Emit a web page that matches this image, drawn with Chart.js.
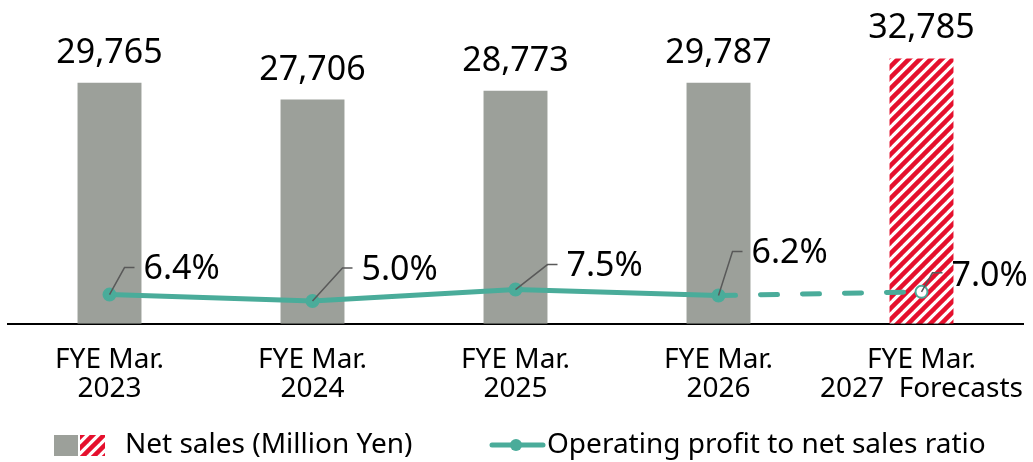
<!DOCTYPE html>
<html>
<head>
<meta charset="utf-8">
<script src="https://cdn.jsdelivr.net/npm/chart.js@4"></script>
<style>
  html, body { margin: 0; padding: 0; background: #ffffff; }
  #chart { display: block; }
</style>
</head>
<body>
<canvas id="chart" width="1033" height="462"></canvas>
<script>
// net sales bars + operating profit ratio line

// the data
const yearLabels = [
    ['FYE Mar.', '2023'],
    ['FYE Mar.', '2024'],
    ['FYE Mar.', '2025'],
    ['FYE Mar.', '2026'],
    ['FYE Mar.', '2027  Forecasts']
];
const netSales = [29765, 27706, 28773, 29787, 32785];
const profitRatio = [6.4, 5.0, 7.5, 6.2, 7.0];
const forecastIndex = 4;
const legendTexts = ['Net sales (Million Yen)', 'Operating profit to net sales ratio'];

// colors
const COLOR_GRAY = '#9ca09a';
const COLOR_RED = '#e5102d';
const COLOR_TEAL = '#4aac9a';
const COLOR_LEADER = '#595959';
const FONT = '"Noto Sans", sans-serif';

// red diagonal stripes for the forecast bar
function makeHatch() {
    const size = 11;
    const c = document.createElement('canvas');
    c.width = size;
    c.height = size;
    const g = c.getContext('2d');
    g.fillStyle = '#ffffff';
    g.fillRect(0, 0, size, size);
    g.strokeStyle = COLOR_RED;
    g.lineWidth = 4.5;
    for (let k = -1; k <= 1; k++) {
        g.beginPath();
        g.moveTo(k * size - 2, size + 2);
        g.lineTo(k * size + size + 2, -2);
        g.stroke();
    }
    return g.createPattern(c, 'repeat');
}
const hatch = makeHatch();

// leader offsets for the ratio labels: [elbow dx, elbow dy, label center dy]
const ratioLabelOffsets = [[15, -27, -25], [30, -33, -31], [32, -25, -23], [14, -44, -42], [11, -19, -16]];

// draws the numbers above bars and the ratio labels with leader lines
const labelPlugin = {
    id: 'labels',
    afterDatasetsDraw(chart) {
        const ctx = chart.ctx;
        ctx.save();
        ctx.fillStyle = '#000000';
        ctx.font = '34px ' + FONT;
        ctx.textAlign = 'center';
        ctx.textBaseline = 'alphabetic';

        const bars = chart.getDatasetMeta(1).data;
        for (let i = 0; i < bars.length; i++) {
            ctx.fillText(netSales[i].toLocaleString('en-US'), bars[i].x, bars[i].y - 20);
        }

        const points = chart.getDatasetMeta(0).data;
        ctx.textAlign = 'left';
        ctx.textBaseline = 'middle';
        ctx.strokeStyle = COLOR_LEADER;
        ctx.lineWidth = 1.5;
        for (let i = 0; i < points.length; i++) {
            const p = points[i];
            const off = ratioLabelOffsets[i];
            const ex = p.x + off[0];
            const ey = p.y + off[1];
            ctx.beginPath();
            ctx.moveTo(p.x, p.y);
            ctx.lineTo(ex, ey);
            ctx.lineTo(ex + 10, ey);
            ctx.stroke();
            ctx.fillText(profitRatio[i].toFixed(1) + '%', ex + 19, p.y + off[2]);
        }
        ctx.restore();
    }
};

// the legend at the bottom: gray + hatched swatch, then the line swatch
const legendPlugin = {
    id: 'bottomLegend',
    afterDraw(chart) {
        const ctx = chart.ctx;
        const y = 445;
        ctx.save();

        ctx.fillStyle = COLOR_GRAY;
        ctx.fillRect(54, y - 10, 24, 21);
        ctx.fillStyle = hatch;
        ctx.fillRect(80, y - 10, 25, 21);

        ctx.strokeStyle = COLOR_TEAL;
        ctx.lineWidth = 5;
        ctx.lineCap = 'round';
        ctx.beginPath();
        ctx.moveTo(492, y);
        ctx.lineTo(543, y);
        ctx.stroke();
        ctx.fillStyle = COLOR_TEAL;
        ctx.beginPath();
        ctx.arc(516, y, 6, 0, Math.PI * 2);
        ctx.fill();

        ctx.fillStyle = '#000000';
        ctx.font = '28px ' + FONT;
        ctx.textAlign = 'left';
        ctx.textBaseline = 'middle';
        ctx.fillText(legendTexts[0], 125, y);
        ctx.fillText(legendTexts[1], 547, y);
        ctx.restore();
    }
};

const ctx = document.getElementById('chart').getContext('2d');

new Chart(ctx, {
    data: {
        labels: yearLabels,
        datasets: [
            {
                type: 'line',
                label: legendTexts[1],
                data: profitRatio,
                yAxisID: 'y1',
                borderColor: COLOR_TEAL,
                borderWidth: 5,
                borderCapStyle: 'round',
                tension: 0,
                pointRadius: 6,
                pointHoverRadius: 6,
                pointBorderWidth: 2,
                pointBackgroundColor: profitRatio.map((v, i) => i === forecastIndex ? '#ffffff' : COLOR_TEAL),
                pointBorderColor: COLOR_TEAL,
                segment: {
                    borderDash: c => c.p1DataIndex === forecastIndex ? [17, 25] : undefined
                },
                order: 0
            },
            {
                type: 'bar',
                label: legendTexts[0],
                data: netSales,
                yAxisID: 'y',
                backgroundColor: netSales.map((v, i) => i === forecastIndex ? hatch : COLOR_GRAY),
                barPercentage: 0.315,
                categoryPercentage: 1,
                order: 1
            }
        ]
    },
    options: {
        responsive: false,
        animation: false,
        layout: { autoPadding: false, padding: { left: 8, right: 10, top: 0, bottom: 44 } },
        scales: {
            x: {
                grid: { display: false },
                border: { display: true, color: '#000000', width: 2 },
                ticks: {
                    color: '#000000',
                    font: { family: FONT, size: 28, lineHeight: 1.04 },
                    padding: 14,
                    maxRotation: 0,
                    autoSkip: false
                },
                afterFit: function(scale) {
                    // labels fit inside their categories, no extra side padding
                    scale.paddingLeft = 0;
                    scale.paddingRight = 0;
                }
            },
            y: {
                display: false,
                min: 0,
                max: 40000
            },
            y1: {
                display: false,
                min: 0,
                max: 71
            }
        },
        plugins: {
            tooltip: { enabled: false },
            legend: { display: false }
        }
    },
    plugins: [labelPlugin, legendPlugin]
});
</script>
</body>
</html>
